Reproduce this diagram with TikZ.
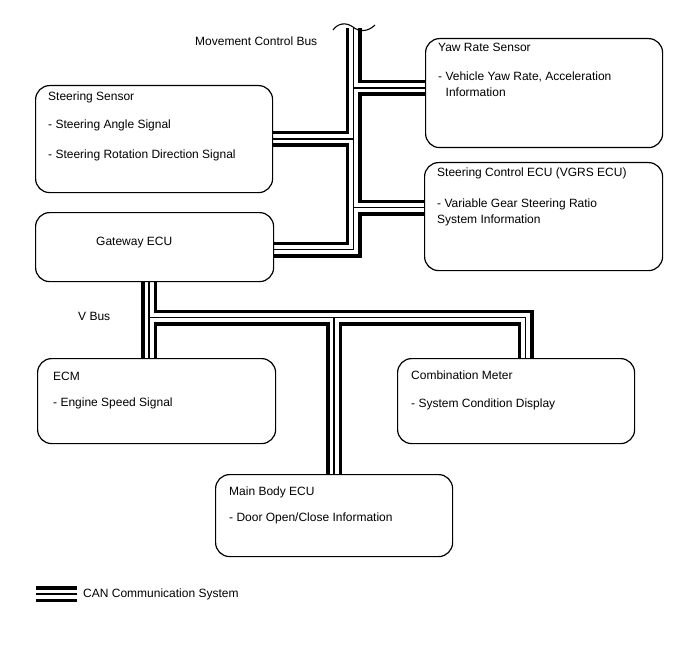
\documentclass[tikz,border=0pt]{standalone}
\usepackage{fontspec}
\setmainfont{Liberation Sans}
\usetikzlibrary{calc}
\usetikzlibrary{backgrounds}

\begin{document}
\begin{tikzpicture}[x=1pt, y=-1pt,
  ecu/.style={draw, line width=1.2pt, rounded corners=14pt, fill=white, anchor=north west, inner sep=0pt},
  txt/.style={anchor=base west, inner sep=0pt, font=\fontsize{12}{14}\selectfont},
  busout/.style={line width=16pt, black, line join=miter},
  busgap/.style={line width=9pt, white, line join=miter},
  buscore/.style={line width=1.3pt, black, line join=miter},
]
\useasboundingbox (0,0) rectangle (688,658);

\node[ecu, minimum width=237, minimum height=109] (yaw) at (425,38) {};
\node[ecu, minimum width=237, minimum height=107] (steer) at (35,85) {};
\node[ecu, minimum width=238, minimum height=108] (ctrl) at (424,162) {};
\node[ecu, minimum width=238, minimum height=69] (gw) at (35,212) {};
\node[ecu, minimum width=238, minimum height=85] (ecm) at (37,358) {};
\node[ecu, minimum width=237, minimum height=85] (cmeter) at (397,358) {};
\node[ecu, minimum width=237, minimum height=82] (body) at (215,474) {};

\node[txt] (mcbus) at (195,46) {Movement Control Bus};
\node[txt] (yawT) at (438,52) {Yaw Rate Sensor};
\node[txt] (yawA) at (438,81) {- Vehicle Yaw Rate, Acceleration};
\node[txt] (yawB) at (445.5,97) {Information};
\node[txt] (steerT) at (48,101) {Steering Sensor};
\node[txt] (steerA) at (48,129) {- Steering Angle Signal};
\node[txt] (steerB) at (48,159) {- Steering Rotation Direction Signal};
\node[txt] (ctrlT) at (437,176) {Steering Control ECU (VGRS ECU)};
\node[txt] (ctrlA) at (437,207) {- Variable Gear Steering Ratio};
\node[txt] (ctrlB) at (437,223) {System Information};
\node[txt] (gwT) at (96,245) {Gateway ECU};
\node[txt] (vbus) at (78,320) {V Bus};
\node[txt] (ecmT) at (53,380) {ECM};
\node[txt] (ecmA) at (53,406) {- Engine Speed Signal};
\node[txt] (cmeterT) at (411,379) {Combination Meter};
\node[txt] (cmeterA) at (411,407) {- System Condition Display};
\node[txt] (bodyT) at (229,495) {Main Body ECU};
\node[txt] (bodyA) at (229,521) {- Door Open/Close Information};
\node[txt] (legT) at (83,597) {CAN Communication System};

\coordinate (brk) at (353.5,28);
\coordinate (jyaw) at (353.5,88);
\coordinate (jsteer) at (353.5,139);
\coordinate (jctrl) at (353.5,207.5);
\coordinate (jgw) at (353.5,249.5);
\coordinate (vtop) at (149,281);
\coordinate (jv) at (149,317.5);
\coordinate (jmb) at (334,317.5);
\coordinate (jcm) at (525.5,317.5);
\coordinate (legA) at (36,594);
\coordinate (legB) at (77,594);

\begin{pgfonlayer}{background}
\foreach \s in {busout,busgap,buscore} {
  \draw[\s] (brk) -- (jgw) -- (jgw -| gw.east);
  \draw[\s] (jyaw) -- (jyaw -| yaw.west);
  \draw[\s] (jsteer) -- (jsteer -| steer.east);
  \draw[\s] (jctrl) -- (jctrl -| ctrl.west);
  \draw[\s] (vtop) -- (vtop |- ecm.north);
  \draw[\s] (jv) -- (jcm) -- (jcm |- cmeter.north);
  \draw[\s] (jmb) -- (jmb |- body.north);
  \draw[\s] (legA) -- (legB);
}
\end{pgfonlayer}

\draw[line width=1.1pt] (333,30) .. controls (338,23) and (346,22) .. (353,27)
  .. controls (359,32) and (368,32) .. (375,25);
\end{tikzpicture}
\end{document}
